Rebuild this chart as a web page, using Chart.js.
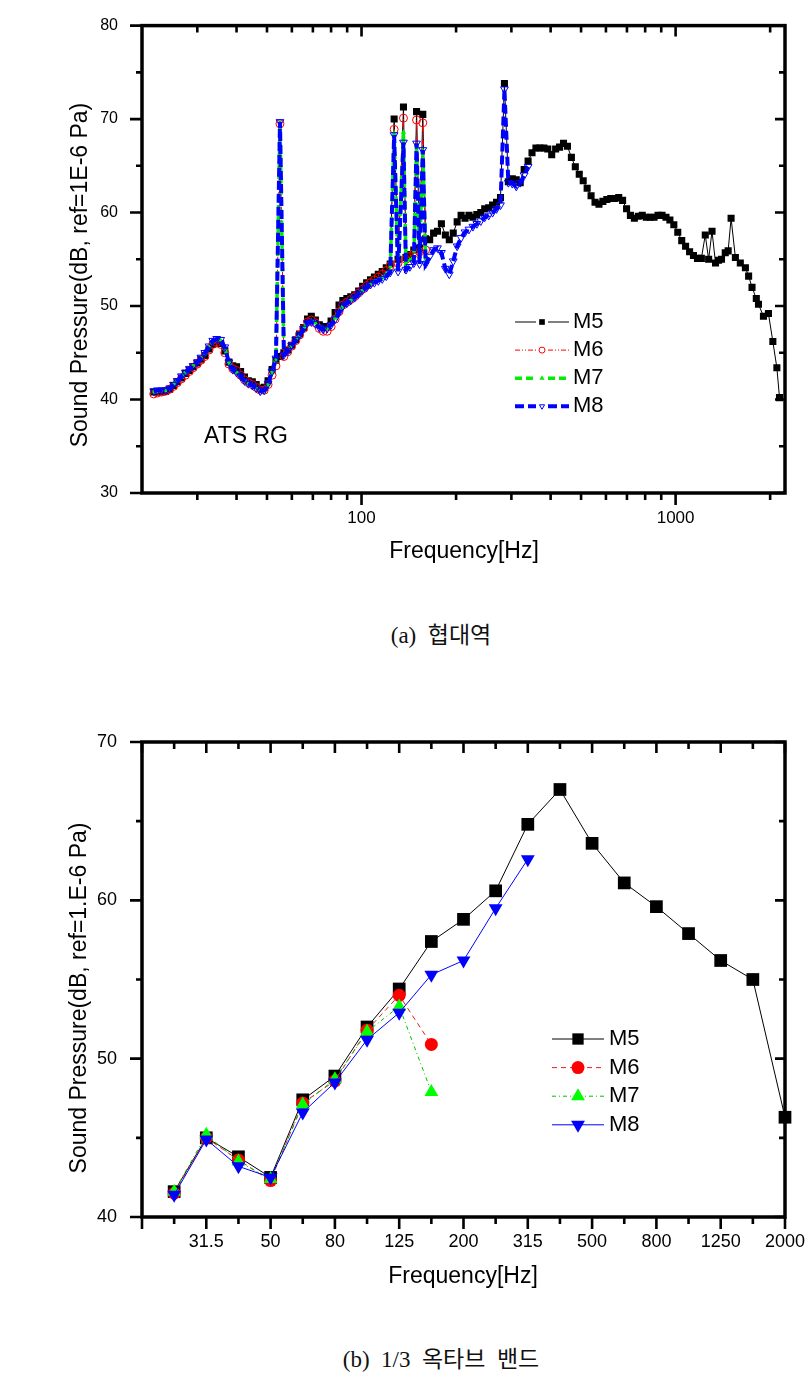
<!DOCTYPE html>
<html>
<head>
<meta charset="utf-8">
<script src="https://cdn.jsdelivr.net/npm/chart.js@4.4.1/dist/chart.umd.min.js"></script>
<style>
  html, body { margin: 0; padding: 0; background: #fff; }
  body { width: 806px; height: 1383px; position: relative; overflow: hidden; }
  canvas { position: absolute; left: 0; }
  #narrow { top: 0; }
  #octave { top: 700px; }
  .cap { position: absolute; left: 241px; width: 400px; text-align: center; line-height: 28px;
         font-family: "Liberation Serif", "Noto Sans CJK KR", serif; font-size: 23px; color: #111; }
</style>
</head>
<body>
<canvas id="narrow" width="806" height="580"></canvas>
<canvas id="octave" width="806" height="600"></canvas>
<div class="cap" style="top:622px">(a)&nbsp; 협대역</div>
<div class="cap" style="top:1346px">(b)&nbsp; 1/3&nbsp; 옥타브&nbsp; 밴드</div>
<script>
/* NARROWBAND DATA (Hz / dB) */
const narrowFreq = [
  21.8, 22.4, 23.1, 23.8, 24.5, 25.2, 25.9, 26.7,
  27.5, 28.3, 29.1, 30.0, 30.8, 31.7, 32.7, 33.6,
  34.6, 35.6, 36.7, 37.8, 38.9, 40.0, 41.2, 42.4,
  43.6, 44.9, 46.2, 47.6, 49.0, 50.4, 51.9, 53.4,
  55.0, 56.6, 58.2, 59.9, 61.7, 63.5, 65.4, 67.3,
  69.2, 71.3, 73.4, 75.5, 77.7, 80.0, 82.4, 84.8,
  87.2, 89.8, 92.4, 95.1, 97.9, 100.8, 103.8, 106.8,
  109.9, 113.1, 116.4, 119.9, 123.4, 127.0, 130.7, 136.0,
  138.5, 142.5, 146.7, 149.7, 153.0, 156.7, 160.0, 164.8,
  169.6, 174.5, 179.6, 184.9, 190.3, 195.9, 201.6, 207.5,
  213.6, 219.8, 226.3, 232.9, 239.7, 246.7, 254.0, 261.4,
  269.1, 277.0, 285.1, 293.4, 302.0, 310.9, 320.0, 329.5,
  339.1, 349.0, 359.2, 369.7, 380.6, 391.7, 403.2, 415.0,
  427.1, 439.6, 452.5, 465.8, 479.4, 493.4, 507.9, 522.8,
  538.1, 553.9, 570.1, 586.8, 604.0, 621.7, 640.0, 659,
  678, 698, 718, 739, 761, 783, 806, 830,
  854, 879, 905, 932, 959, 987, 1016, 1046,
  1076, 1108, 1140, 1174, 1208, 1243, 1274, 1306,
  1340, 1370, 1400, 1439, 1470, 1502, 1550, 1607,
  1668, 1708, 1751, 1807, 1836, 1904, 1975, 2040,
  2101, 2142
];
const narrowM5 = [
  40.8, 40.8, 40.8, 40.9, 41.1, 41.5, 41.9, 42.3,
  42.8, 43.1, 43.5, 43.9, 44.3, 44.7, 45.4, 45.9,
  46.2, 46.0, 45.2, 44.0, 43.6, 43.5, 43.0, 42.4,
  42.0, 41.9, 41.6, 41.2, 41.3, 42.0, 43.2, 44.2,
  44.6, 45.0, 45.3, 45.8, 46.4, 47.0, 47.7, 48.6,
  48.9, 48.5, 48.0, 47.8, 47.8, 48.4, 49.3, 50.1,
  50.6, 50.8, 51.0, 51.2, 51.6, 52.1, 52.5, 52.8,
  53.1, 53.4, 53.7, 54.1, 54.5, 70.0, 55.0, 71.3,
  55.2, 55.5, 56.0, 70.8, 56.2, 70.5, 57.2, 57.1,
  57.8, 58.0, 58.8, 57.6, 57.1, 57.8, 59.0, 59.7,
  59.4, 59.7, 59.5, 59.8, 60.0, 60.4, 60.5, 60.8,
  61.1, 61.6, 73.8, 63.3, 63.6, 63.5, 63.2, 64.6,
  65.5, 66.4, 66.9, 66.9, 66.9, 66.8, 66.2, 66.8,
  67.0, 67.4, 67.1, 65.9, 64.9, 64.1, 63.4, 62.6,
  61.8, 61.1, 60.9, 61.2, 61.4, 61.5, 61.5, 61.6,
  61.3, 60.4, 59.7, 59.4, 59.6, 59.7, 59.5, 59.5,
  59.5, 59.7, 59.7, 59.5, 59.2, 58.7, 57.9, 57.0,
  56.4, 55.8, 55.4, 55.1, 55.1, 57.6, 55.0, 58.0,
  54.6, 54.9, 55.0, 55.7, 55.9, 59.4, 55.2, 54.6,
  54.1, 53.2, 52.0, 50.8, 50.2, 48.9, 49.2, 46.2,
  43.4, 40.2
];
const narrowM6 = [
  40.6, 40.7, 40.8, 40.9, 41.1, 41.4, 41.8, 42.2,
  42.6, 43.0, 43.4, 43.8, 44.2, 44.6, 45.3, 45.9,
  46.1, 45.9, 45.0, 43.8, 43.3, 43.1, 42.6, 42.1,
  41.8, 41.6, 41.3, 41.0, 41.0, 41.6, 42.6, 43.6,
  69.5, 44.6, 45.1, 45.7, 46.3, 46.9, 47.6, 48.3,
  48.5, 48.2, 47.6, 47.3, 47.3, 47.8, 48.6, 49.4,
  50.1, 50.4, 50.7, 51.0, 51.4, 51.8, 52.2, 52.5,
  52.8, 53.1, 53.4, 53.8, 54.3, 68.9, 54.6, 70.1,
  55.0, 55.3, 55.6, 69.9, 55.8, 69.6, 56.0
];
const narrowM7 = [
  40.8, 40.9, 41.0, 41.0, 41.2, 41.6, 42.0, 42.4,
  42.9, 43.3, 43.6, 44.0, 44.4, 44.9, 45.6, 46.2,
  46.4, 46.3, 45.5, 44.0, 43.2, 42.9, 42.5, 42.0,
  41.7, 41.5, 41.2, 40.9, 40.9, 41.6, 42.9, 44.3,
  69.6, 44.8, 45.2, 45.8, 46.4, 46.9, 47.6, 48.2,
  48.4, 48.2, 47.8, 47.6, 47.6, 48.0, 48.7, 49.4,
  50.0, 50.3, 50.6, 50.9, 51.3, 51.7, 52.0, 52.3,
  52.6, 52.8, 53.0, 53.4, 53.8, 68.5, 54.2, 68.6,
  54.5, 54.9, 55.2, 67.2, 55.3, 66.6, 55.0
];
const narrowM8 = [
  40.9, 41.0, 41.0, 41.0, 41.2, 41.6, 42.0, 42.5,
  42.9, 43.3, 43.6, 44.0, 44.5, 45.0, 45.7, 46.3,
  46.5, 46.4, 45.6, 44.0, 43.2, 42.9, 42.5, 42.0,
  41.7, 41.5, 41.2, 40.9, 41.0, 41.7, 43.0, 44.4,
  69.7, 44.8, 45.2, 45.8, 46.4, 46.9, 47.6, 48.2,
  48.3, 48.1, 47.7, 47.5, 47.6, 48.0, 48.6, 49.3,
  50.0, 50.3, 50.6, 50.9, 51.3, 51.7, 52.0, 52.3,
  52.5, 52.7, 52.9, 53.2, 53.6, 68.3, 53.7, 67.5,
  53.9, 54.2, 54.6, 67.4, 54.5, 66.7, 54.5, 55.3,
  56.0, 56.2, 55.7, 54.0, 53.4, 54.8, 56.4, 57.3,
  57.9, 58.2, 58.5, 58.8, 59.1, 59.5, 59.7, 60.0,
  60.4, 60.8, 73.2, 63.2, 63.1, 62.8, 63.2, 64.0,
  64.9
];
const narrowLabels = [100, 1000];
const narrowMinor = [30, 40, 50, 60, 70, 80, 90, 200, 300, 400, 500, 600, 700, 800, 900, 2000];

/* 1/3 OCTAVE DATA */
const bandLabels = ['20', '25', '31.5', '40', '50', '63', '80', '100', '125', '160', '200',
  '250', '315', '400', '500', '630', '800', '1000', '1250', '1600', '2000'];
const bandM5 = [null, 41.6, 45.0, 43.8, 42.5, 47.4, 48.9, 52.0, 54.4, 57.4, 58.8,
  60.6, 64.8, 67.0, 63.6, 61.1, 59.6, 57.9, 56.2, 55.0, 46.3];
const bandM6 = [null, 41.5, 45.0, 43.6, 42.3, 47.2, 48.6, 51.8, 54.0, 50.9];
const bandM7 = [null, 41.6, 45.2, 43.5, 42.4, 47.1, 48.7, 51.7, 53.3, 47.9];
const bandM8 = [null, 41.4, 44.9, 43.2, 42.5, 46.6, 48.5, 51.2, 52.9, 55.3, 56.2, 59.5, 62.6];

Chart.defaults.font.family = '"Liberation Sans", Arial, sans-serif';
Chart.defaults.color = '#000';

function xy(freq, vals) {
  return vals.map((v, i) => ({ x: freq[i], y: v }));
}

/* frame with ticks on all four sides */
function frameTicks(xTicks, yTicks) {
  return {
    id: 'frameTicks',
    afterDraw(chart) {
      const { ctx, chartArea: a } = chart;
      const sx = chart.scales.x, sy = chart.scales.y;
      ctx.save();
      ctx.strokeStyle = '#000';
      ctx.lineWidth = 2.6;
      ctx.beginPath();
      xTicks(sx).forEach(t => {
        const p = sx.getPixelForValue(t.v);
        ctx.moveTo(p, a.bottom); ctx.lineTo(p, a.bottom + (t.major ? 12 : 7));
        ctx.moveTo(p, a.top); ctx.lineTo(p, a.top + (t.major ? 11 : 7));
      });
      yTicks.forEach(t => {
        const p = sy.getPixelForValue(t.v);
        ctx.moveTo(a.left, p); ctx.lineTo(a.left - (t.major ? 12 : 6), p);
        ctx.moveTo(a.right, p); ctx.lineTo(a.right - (t.major ? 10 : 6), p);
      });
      ctx.stroke();
      ctx.lineWidth = 3.5;
      ctx.strokeRect(a.left, a.top, a.right - a.left, a.bottom - a.top);
      ctx.restore();
    }
  };
}

/* legend: line - marker - line, then label */
function lineLegend(cfg) {
  return {
    id: 'lineLegend',
    afterDraw(chart) {
      const ctx = chart.ctx;
      ctx.save();
      chart.data.datasets.forEach((ds, i) => {
        const y = cfg.y + i * cfg.dy;
        const mid = cfg.x + cfg.len / 2;
        ctx.strokeStyle = ds.borderColor;
        ctx.lineWidth = ds.borderWidth;
        ctx.setLineDash(ds.borderDash || []);
        ctx.beginPath();
        ctx.moveTo(cfg.x, y); ctx.lineTo(mid - cfg.gap, y);
        ctx.moveTo(mid + cfg.gap, y); ctx.lineTo(cfg.x + cfg.len, y);
        ctx.stroke();
        ctx.setLineDash([]);
        ctx.fillStyle = ds.pointBackgroundColor;
        ctx.strokeStyle = ds.pointBorderColor;
        ctx.lineWidth = ds.pointBorderWidth;
        Chart.helpers.drawPoint(ctx, {
          pointStyle: ds.pointStyle, rotation: ds.pointRotation || 0,
          radius: cfg.r[i], borderWidth: ds.pointBorderWidth
        }, mid, y);
        ctx.fillStyle = '#000';
        ctx.font = cfg.font;
        ctx.textAlign = 'left';
        ctx.textBaseline = 'middle';
        ctx.fillText(ds.label, cfg.x + cfg.len + cfg.textGap, y);
      });
      ctx.restore();
    }
  };
}

function freeText(items) {
  return {
    id: 'freeText',
    afterDraw(chart) {
      const ctx = chart.ctx;
      items.forEach(t => {
        ctx.save();
        ctx.translate(t.x, t.y);
        if (t.rot) ctx.rotate(t.rot);
        ctx.font = t.font;
        ctx.fillStyle = '#000';
        ctx.textAlign = t.align || 'center';
        ctx.textBaseline = 'middle';
        ctx.fillText(t.text, 0, 0);
        ctx.restore();
      });
    }
  };
}

const titleFont = '23px "Liberation Sans", Arial, sans-serif';

/* (a) NARROWBAND */
new Chart(document.getElementById('narrow'), {
  type: 'line',
  data: {
    datasets: [
      { label: 'M5', data: xy(narrowFreq, narrowM5), borderColor: '#000', borderWidth: 1,
        pointStyle: 'rect', pointRadius: 5, pointBackgroundColor: '#000', pointBorderColor: '#000',
        pointBorderWidth: 0, order: 3 },
      { label: 'M6', data: xy(narrowFreq, narrowM6), borderColor: '#ff0000', borderWidth: 1,
        borderDash: [5, 2, 1, 2, 1, 2],
        pointStyle: 'circle', pointRadius: 4, pointBackgroundColor: 'rgba(0,0,0,0)',
        pointBorderColor: '#ff0000', pointBorderWidth: 1, order: 2 },
      { label: 'M7', data: xy(narrowFreq, narrowM7), borderColor: '#00ee00', borderWidth: 3.5,
        borderDash: [7, 4],
        pointStyle: 'triangle', pointRadius: 3, pointBackgroundColor: '#00ee00',
        pointBorderColor: '#00ee00', pointBorderWidth: 0, order: 1 },
      { label: 'M8', data: xy(narrowFreq, narrowM8), borderColor: '#0000ff', borderWidth: 4,
        borderDash: [9, 4],
        pointStyle: 'triangle', pointRotation: 180, pointRadius: 4.5,
        pointBackgroundColor: 'rgba(0,0,0,0)', pointBorderColor: '#0000ff',
        pointBorderWidth: 1, order: 0 }
    ]
  },
  options: {
    responsive: false, animation: false, events: [],
    layout: { padding: { top: 17, right: 21, left: 0, bottom: 0 } },
    elements: { line: { tension: 0 } },
    plugins: { legend: { display: false }, tooltip: { enabled: false } },
    scales: {
      x: {
        type: 'logarithmic', min: 20, max: 2230,
        grid: { display: false }, border: { display: false },
        afterFit: s => { s.height = 87; s.paddingLeft = 0; s.paddingRight = 0; },
        ticks: {
          autoSkip: false, maxRotation: 0, padding: 7, font: { size: 17 },
          callback: v => narrowLabels.includes(Math.round(v)) && Math.abs(v - Math.round(v)) < 1e-6 ? String(Math.round(v)) : ''
        }
      },
      y: {
        min: 30, max: 80,
        grid: { display: false }, border: { display: false },
        afterFit: s => { s.width = 142; },
        ticks: { stepSize: 10, padding: 16, font: { size: 16 } }
      }
    }
  },
  plugins: [
    frameTicks(
      () => narrowMinor.map(v => ({ v, major: false })).concat(narrowLabels.map(v => ({ v, major: true }))),
      [30, 40, 50, 60, 70, 80].map(v => ({ v, major: true }))
        .concat([35, 45, 55, 65, 75].map(v => ({ v, major: false })))
    ),
    lineLegend({ x: 515, y: 322, dy: 28.1, len: 54, gap: 6, textGap: 4, r: [4, 3, 3, 3],
      font: '22px "Liberation Sans", Arial, sans-serif' }),
    freeText([
      { text: 'Frequency[Hz]', x: 464, y: 552, font: titleFont },
      { text: 'Sound Pressure(dB, ref=1E-6 Pa)', x: 81, y: 275, rot: -Math.PI / 2, font: titleFont },
      { text: 'ATS RG', x: 204, y: 437, align: 'left', font: titleFont }
    ])
  ]
});

/* (b) 1/3 OCTAVE BAND */
new Chart(document.getElementById('octave'), {
  type: 'line',
  data: {
    labels: bandLabels,
    datasets: [
      { label: 'M5', data: bandM5, borderColor: '#000', borderWidth: 1,
        pointStyle: 'rect', pointRadius: 9, pointBackgroundColor: '#000', pointBorderColor: '#000',
        pointBorderWidth: 0, order: 3, clip: false },
      { label: 'M6', data: bandM6, borderColor: '#e02020', borderWidth: 1, borderDash: [5, 4],
        pointStyle: 'circle', pointRadius: 6.5, pointBackgroundColor: '#ff0000',
        pointBorderColor: '#ff0000', pointBorderWidth: 0, order: 2, clip: false },
      { label: 'M7', data: bandM7, borderColor: '#00c000', borderWidth: 1, borderDash: [4, 3, 1, 3],
        pointStyle: 'triangle', pointRadius: 8, pointBackgroundColor: '#00ff00',
        pointBorderColor: '#00ff00', pointBorderWidth: 0, order: 1, clip: false },
      { label: 'M8', data: bandM8, borderColor: '#0000ff', borderWidth: 1,
        pointStyle: 'triangle', pointRotation: 180, pointRadius: 8, pointBackgroundColor: '#0000ff',
        pointBorderColor: '#0000ff', pointBorderWidth: 0, order: 0, clip: false }
    ]
  },
  options: {
    responsive: false, animation: false, events: [],
    layout: { padding: { top: 42, right: 21, left: 0, bottom: 0 } },
    elements: { line: { tension: 0 } },
    plugins: { legend: { display: false }, tooltip: { enabled: false } },
    scales: {
      x: {
        type: 'category', offset: false,
        grid: { display: false }, border: { display: false },
        afterFit: s => { s.height = 83; s.paddingLeft = 0; s.paddingRight = 0; },
        ticks: {
          autoSkip: false, maxRotation: 0, padding: 6, font: { size: 18 },
          callback: (v, i) => (i > 0 && i % 2 === 0) ? bandLabels[i] : ''
        }
      },
      y: {
        min: 40, max: 70,
        grid: { display: false }, border: { display: false },
        afterFit: s => { s.width = 142; },
        ticks: { stepSize: 10, padding: 17, font: { size: 18 } }
      }
    }
  },
  plugins: [
    frameTicks(
      () => bandLabels.map((l, i) => ({ v: i, major: i % 2 === 0 })),
      [40, 50, 60, 70].map(v => ({ v, major: true }))
        .concat([45, 55, 65].map(v => ({ v, major: false })))
    ),
    lineLegend({ x: 552, y: 339, dy: 28.6, len: 52, gap: 0, textGap: 5, r: [8, 6.5, 8, 8],
      font: '22px "Liberation Sans", Arial, sans-serif' }),
    freeText([
      { text: 'Frequency[Hz]', x: 463, y: 577, font: titleFont },
      { text: 'Sound Pressure(dB, ref=1.E-6 Pa)', x: 80, y: 298, rot: -Math.PI / 2, font: titleFont }
    ])
  ]
});
</script>
</body>
</html>
